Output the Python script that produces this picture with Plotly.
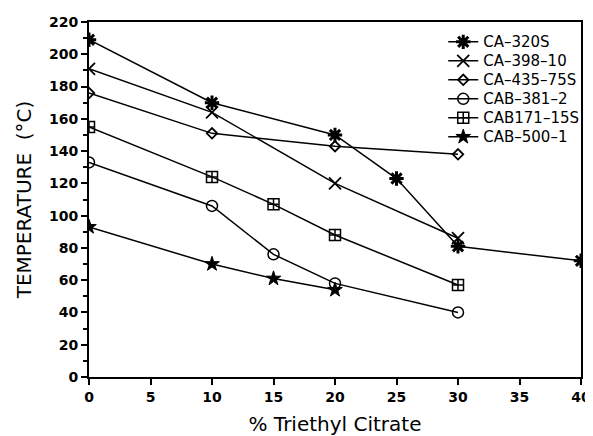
import plotly.graph_objects as go

names = ["CA–320S", "CA–398–10", "CA–435–75S", "CAB–381–2", "CAB171–15S", "CAB–500–1"]
x_ca320 = [0, 10, 20, 25, 30, 40]
y_ca320 = [209, 170, 150, 123, 81, 72]
x_ca398 = [0, 10, 20, 30]
y_ca398 = [191, 164, 120, 86]
x_ca435 = [0, 10, 20, 30]
y_ca435 = [176, 151, 143, 138]
x_cab381 = [0, 10, 15, 20, 30]
y_cab381 = [133, 106, 76, 58, 40]
x_cab171 = [0, 10, 15, 20, 30]
y_cab171 = [155, 124, 107, 88, 57]
x_cab500 = [0, 10, 15, 20]
y_cab500 = [93, 70, 61, 54]

xs = [x_ca320, x_ca398, x_ca435, x_cab381, x_cab171, x_cab500]
ys = [y_ca320, y_ca398, y_ca435, y_cab381, y_cab171, y_cab500]
symbols = ["asterisk-open", "x-thin-open", "diamond-open", "circle-open", "square-cross-open", "star"]
sizes = [12, 12, 8, 11, 11, 11]
mlw = [3, 1.8, 1.8, 1.5, 1.5, 1]

fig = go.Figure()
for n, x, y, s, sz, w in zip(names, xs, ys, symbols, sizes, mlw):
    fig.add_trace(go.Scatter(
        x=x, y=y, name='<span style="font-size:15px">' + n + '</span>',
        mode="lines+markers",
        line=dict(color="black", width=1.5),
        marker=dict(symbol=s, size=sz, color="black",
                    line=dict(color="black", width=w)),
    ))

# page body has an 8px margin; figure is sized/placed to compensate
fig.update_layout(
    width=585, height=428,
    margin=dict(l=81, r=12, t=14, b=59, autoexpand=False),
    paper_bgcolor="white", plot_bgcolor="white",
    font=dict(family="DejaVu Sans", color="black"),
    showlegend=True,
    legend=dict(x=0.72, y=0.985, xanchor="left", yanchor="top",
                bgcolor="rgba(0,0,0,0)", font=dict(size=12, family="DejaVu Sans"),
                itemwidth=30, tracegroupgap=0),
)
fig.update_xaxes(
    range=[0, 40], tickvals=[0, 5, 10, 15, 20, 25, 30, 35, 40], automargin=False,
    showgrid=False, zeroline=False, showline=True, linecolor="black", linewidth=2,
    mirror=True, ticks="outside", ticklen=6, tickwidth=2, tickcolor="black",
    tickfont=dict(size=14, family="DejaVu Sans", weight="bold"),
    title=dict(text="% Triethyl Citrate", font=dict(size=20, family="DejaVu Sans"), standoff=16),
)
fig.update_yaxes(
    range=[0, 220], tickvals=list(range(0, 221, 20)), automargin=False,
    showgrid=False, zeroline=False, showline=True, linecolor="black", linewidth=2,
    mirror=True, ticks="outside", ticklen=6, tickwidth=2, tickcolor="black",
    minor=dict(tickvals=list(range(10, 220, 20)), ticks="outside", ticklen=4, tickwidth=1.5, tickcolor="black"),
    tickfont=dict(size=14, family="DejaVu Sans", weight="bold"),
    title=dict(text="TEMPERATURE  (°C)", font=dict(size=20, family="DejaVu Sans"), standoff=12),
)
fig.write_html("out.html")
